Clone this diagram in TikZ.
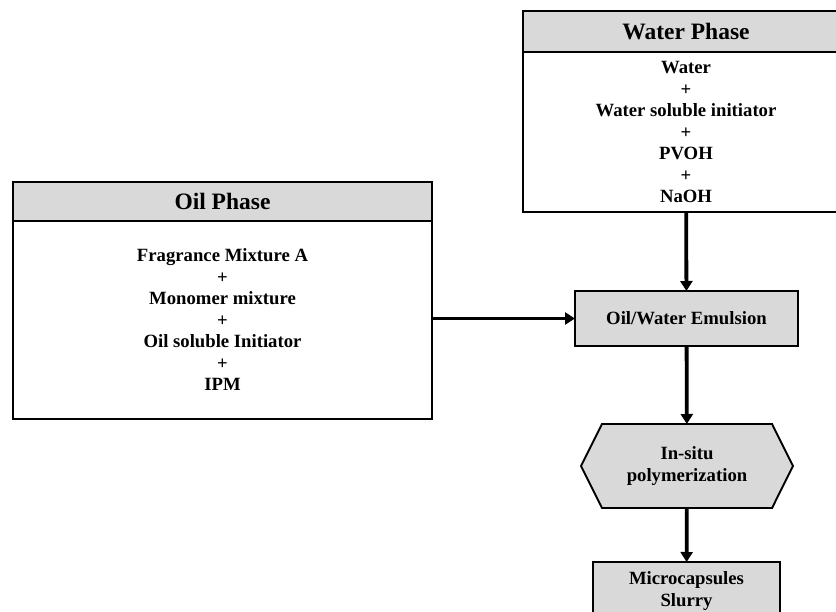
\documentclass[tikz,border=0pt]{standalone}
\usepackage{fontspec}
\setmainfont{Liberation Serif}
\usepackage{tikz}
\usetikzlibrary{positioning, arrows.meta, shapes.symbols}
\definecolor{boxgray}{RGB}{217, 217, 217}

\begin{document}
\begin{tikzpicture}[x=1pt, y=-1pt,
    font=\bfseries\fontsize{18.7}{21.5}\selectfont,
    box/.style={draw, line width=1.9pt, outer sep=0pt, inner sep=0pt, align=center},
    head/.style={box, fill=boxgray, font=\bfseries\fontsize{23.5}{26}\selectfont},
    stage/.style={box, fill=boxgray},
    hexa/.style={stage, signal, signal to=east and west, signal pointer angle=127},
    flow/.style={-{Triangle[width=12pt, length=10pt]}, line width=3.8pt}]
  \useasboundingbox (0,0) rectangle (836,611);
  \clip (0,0) rectangle (836,611);

  % oil phase
  \node[head, minimum width=419, minimum height=39] (oilhead) at (222.5, 201.5) {Oil Phase};
  \node[box, minimum width=419, minimum height=198, below=0pt of oilhead] (oilbody)
    {Fragrance Mixture A\\+\\Monomer mixture\\+\\Oil soluble Initiator\\+\\IPM};

  % water phase
  \node[head, minimum width=326, minimum height=41] (waterhead) at (686, 31.5) {Water Phase};
  \node[box, minimum width=326, minimum height=160, below=0pt of waterhead] (waterbody)
    {Water\\+\\Water soluble initiator\\+\\PVOH\\+\\NaOH};

  % process steps
  \node[stage, minimum width=223, minimum height=55] (emul) at (686.5, 318.5) {Oil/Water Emulsion};
  \node[hexa, minimum width=212, minimum height=84] (poly) at (687, 466) {In-situ\\polymerization};
  \node[stage, minimum width=187, minimum height=58] (caps) at (686.5, 591) {Microcapsules\\Slurry};

  \draw[flow] (waterbody) -- (emul);
  \draw[flow] (oilbody.east |- emul.west) -- (emul.west);
  \draw[flow] (emul) -- (poly);
  \draw[flow] (poly) -- (caps);
\end{tikzpicture}
\end{document}
